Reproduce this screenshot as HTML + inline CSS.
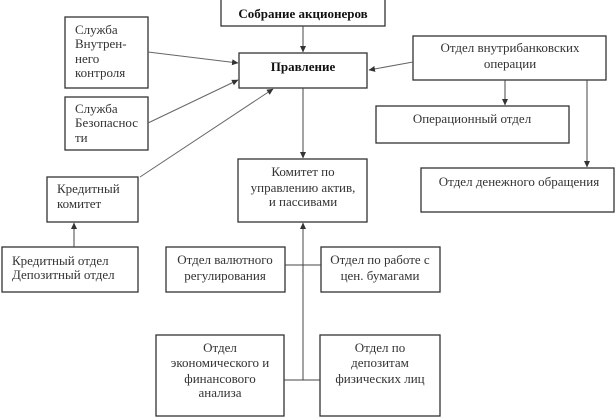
<!DOCTYPE html>
<html><head><meta charset="utf-8"><style>
html,body{margin:0;padding:0;background:#fff;}
svg{display:block;}
text{font-family:"Liberation Serif","Noto Serif CJK SC",serif;font-size:13px;fill:#333;}
.b{font-weight:bold;fill:#111;}
.r{fill:#fff;stroke:#333;stroke-width:1.3;}
.l{stroke:#444;stroke-width:1;fill:none;}
.d{stroke:#666;stroke-width:1;fill:none;}
</style></head><body>
<svg width="615" height="417" viewBox="0 0 615 417" xmlns="http://www.w3.org/2000/svg">
<defs>
<marker id="a" markerWidth="7" markerHeight="7" refX="6" refY="3.5" orient="auto" markerUnits="userSpaceOnUse">
<path d="M0,0.5 L6.5,3.5 L0,6.5 z" fill="#333"/>
</marker>
</defs>

<!-- boxes -->
<rect class="r" x="221" y="-1" width="164" height="27"/>
<rect class="r" x="239" y="53" width="128" height="35"/>
<rect class="r" x="65" y="17" width="83" height="71"/>
<rect class="r" x="65" y="97" width="83" height="53"/>
<rect class="r" x="413" y="36" width="193" height="44"/>
<rect class="r" x="376" y="106" width="193" height="37"/>
<rect class="r" x="421" y="168" width="193" height="44"/>
<rect class="r" x="238" y="159" width="129" height="63"/>
<rect class="r" x="47" y="177" width="91" height="45"/>
<rect class="r" x="2" y="247" width="136" height="45"/>
<rect class="r" x="166" y="247" width="119" height="45"/>
<rect class="r" x="321" y="247" width="119" height="45"/>
<rect class="r" x="156" y="335" width="128" height="81"/>
<rect class="r" x="320" y="335" width="120" height="81"/>

<!-- connectors -->
<line class="l" x1="303" y1="26" x2="303" y2="52" marker-end="url(#a)"/>
<line class="l" x1="303" y1="88" x2="303" y2="158" marker-end="url(#a)"/>
<line class="d" x1="148" y1="52" x2="238" y2="63" marker-end="url(#a)"/>
<line class="d" x1="148" y1="123" x2="238" y2="80" marker-end="url(#a)"/>
<line class="d" x1="140" y1="177" x2="273" y2="89" marker-end="url(#a)"/>
<line class="d" x1="413" y1="62" x2="369" y2="70" marker-end="url(#a)"/>
<line class="l" x1="505" y1="80" x2="505" y2="105" marker-end="url(#a)"/>
<line class="l" x1="587" y1="80" x2="587" y2="167" marker-end="url(#a)"/>
<line class="l" x1="74" y1="247" x2="74" y2="223" marker-end="url(#a)"/>
<line class="l" x1="303" y1="380" x2="303" y2="223" marker-end="url(#a)"/>
<line class="l" x1="285" y1="265" x2="321" y2="265"/>
<line class="l" x1="284" y1="380" x2="320" y2="380"/>

<!-- text -->
<text class="b" x="303" y="18" text-anchor="middle">Собрание акционеров</text>
<text class="b" x="303" y="71" text-anchor="middle">Правление</text>

<text x="75" y="34">Служба</text>
<text x="75" y="48">Внутрен-</text>
<text x="75" y="63">него</text>
<text x="75" y="77">контроля</text>

<text x="75" y="113">Служба</text>
<text x="75" y="127">Безопаснос</text>
<text x="75" y="142">ти</text>

<text x="510" y="52" text-anchor="middle">Отдел внутрибанковских</text>
<text x="510" y="68" text-anchor="middle">операции</text>

<text x="472" y="123" text-anchor="middle">Операционный отдел</text>
<text x="519" y="186" text-anchor="middle">Отдел денежного обращения</text>

<text x="303" y="176" text-anchor="middle">Комитет по</text>
<text x="303" y="192" text-anchor="middle">управлению актив,</text>
<text x="303" y="206" text-anchor="middle">и пассивами</text>

<text x="57" y="193">Кредитный</text>
<text x="57" y="208">комитет</text>

<text x="12" y="265">Кредитный отдел</text>
<text x="12" y="279">Депозитный отдел</text>

<text x="225" y="264" text-anchor="middle">Отдел валютного</text>
<text x="225" y="280" text-anchor="middle">регулирования</text>

<text x="380" y="264" text-anchor="middle">Отдел по работе с</text>
<text x="380" y="280" text-anchor="middle">цен. бумагами</text>

<text x="220" y="352" text-anchor="middle">Отдел</text>
<text x="220" y="367" text-anchor="middle">экономического и</text>
<text x="220" y="383" text-anchor="middle">финансового</text>
<text x="220" y="397" text-anchor="middle">анализа</text>

<text x="380" y="352" text-anchor="middle">Отдел по</text>
<text x="380" y="367" text-anchor="middle">депозитам</text>
<text x="380" y="383" text-anchor="middle">физических лиц</text>
</svg>
</body></html>
